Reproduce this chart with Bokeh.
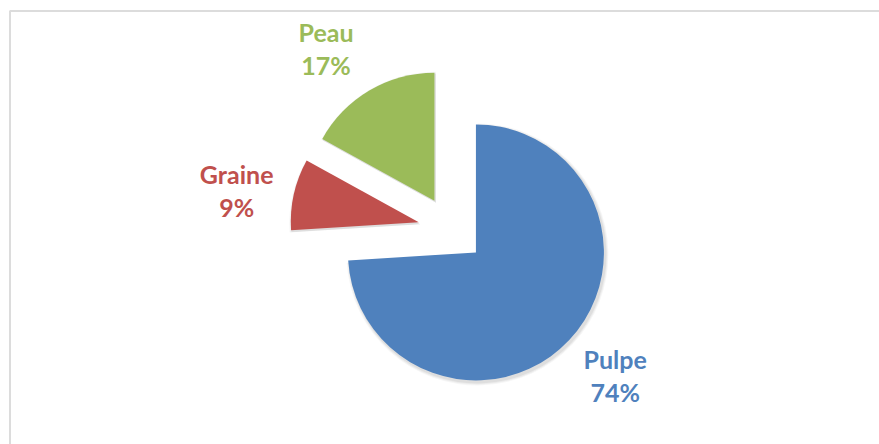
import math
from bokeh.plotting import figure
from bokeh.models import ColumnDataSource, Range1d
from bokeh.core.properties import value
from bokeh.embed import file_html
from bokeh.resources import INLINE

# data
categories = ["Pulpe", "Graine", "Peau"]
percents = [74, 9, 17]
colors = ["#4F81BD", "#C0504D", "#9BBB59"]

# layout (pixels; y measured from top of window)
W, H = 879, 444
cx, cy = 451.0, H - 229.0
R = 128.0
EXPLODE = 33.5
LABEL_R = 215.0
LABEL_NUDGE = [(7, 1), (-5, -7.5), (-16, -4)]   # fine placement of the outside-end labels
LINE_GAP = 16.5

total = float(sum(percents))
xs, ys, starts, ends, lx, ly = [], [], [], [], [], []
acc = 0.0
for v, (nx, ny) in zip(percents, LABEL_NUDGE):
    t1 = acc / total * 2 * math.pi            # clockwise from 12 o'clock
    t2 = (acc + v) / total * 2 * math.pi
    tm = (t1 + t2) / 2
    acc += v
    xs.append(cx + EXPLODE * math.sin(tm))
    ys.append(cy + EXPLODE * math.cos(tm))
    starts.append(math.pi / 2 - t2)
    ends.append(math.pi / 2 - t1)
    lx.append(cx + LABEL_R * math.sin(tm) + nx)
    ly.append(cy + LABEL_R * math.cos(tm) + ny)

src = ColumnDataSource(dict(
    x=xs, y=ys, start=starts, end=ends, color=colors,
    lx=lx, ly1=[v + LINE_GAP for v in ly], ly2=[v - LINE_GAP for v in ly],
    name=categories, pct=[f"{v}%" for v in percents],
))

p = figure(width=W, height=H, output_backend="svg", toolbar_location=None,
           x_range=Range1d(0, W), y_range=Range1d(0, H),
           x_axis_type=None, y_axis_type=None, min_border=0,
           background_fill_color="white", border_fill_color="white")
p.outline_line_color = None
p.xgrid.visible = False
p.ygrid.visible = False

# chart-area frame (extends beyond the visible window at right/bottom)
p.quad(left=[9.5], right=[W + 20], top=[H - 10.5], bottom=[-20],
       fill_color=None, line_color="#DCDCDC", line_width=2)

# soft shadow
for k, a in [(3, 0.035), (2, 0.045), (1, 0.055)]:
    p.wedge(x=[x + 1.5 for x in xs], y=[y - 2 for y in ys], radius=R + k,
            start_angle=starts, end_angle=ends,
            fill_color="#000000", fill_alpha=a, line_color=None)

p.wedge(x="x", y="y", radius=R, start_angle="start", end_angle="end",
        fill_color="color", line_color=None, source=src)

p.text(x="lx", y="ly1", text="name", text_color="color", source=src,
       text_font=value("Lato"), text_font_style="bold", text_font_size="25px",
       text_align="center", text_baseline="middle")
p.text(x="lx", y="ly2", text="pct", text_color="color", source=src,
       text_font=value("Lato"), text_font_style="bold", text_font_size="25px",
       text_align="center", text_baseline="middle")

open("out.html", "w").write(file_html(p, INLINE))
